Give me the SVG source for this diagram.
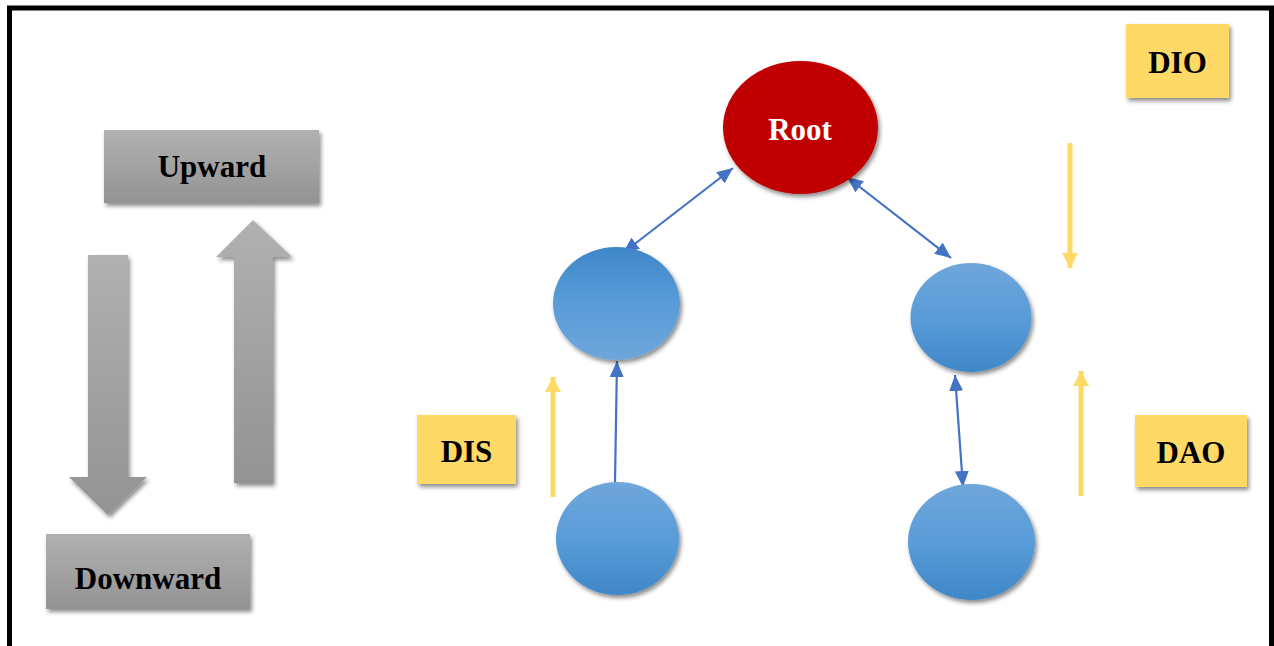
<svg xmlns="http://www.w3.org/2000/svg" width="1274" height="646" viewBox="0 0 1274 646">
<defs>
<style>
.lbl{font-family:"Liberation Serif","Times New Roman",serif;font-weight:bold;font-size:31px;text-anchor:middle;fill:#000}
.conn{stroke:#4472c4;stroke-width:2.2;fill:none}
.yel{stroke:#ffd966;stroke-width:5;fill:none}
</style>
<linearGradient id="gray" x1="0" y1="0" x2="0" y2="1"><stop offset="0" stop-color="#b1b1b1"/><stop offset="1" stop-color="#939393"/></linearGradient>
<linearGradient id="blueDown" x1="0" y1="0" x2="0" y2="1"><stop offset="0" stop-color="#6fa6da"/><stop offset="0.5" stop-color="#599cd9"/><stop offset="1" stop-color="#3f87c8"/></linearGradient>
<linearGradient id="blueUp" x1="0" y1="1" x2="0" y2="0"><stop offset="0" stop-color="#6fa6da"/><stop offset="0.5" stop-color="#599cd9"/><stop offset="1" stop-color="#3f87c8"/></linearGradient>
<filter id="sh" x="-20%" y="-20%" width="150%" height="150%"><feDropShadow dx="2" dy="3" stdDeviation="2" flood-color="#000" flood-opacity="0.45"/></filter>
<marker id="bhb" viewBox="0 0 16 14" refX="16" refY="7" markerWidth="16" markerHeight="14" orient="auto-start-reverse" markerUnits="userSpaceOnUse"><path d="M0,0 L16,7 L0,14 z" fill="#4472c4"/></marker>
<marker id="yh" viewBox="0 0 15 16" refX="15" refY="8" markerWidth="15" markerHeight="16" orient="auto" markerUnits="userSpaceOnUse"><path d="M0,0 L15,8 L0,16 z" fill="#ffd966"/></marker>
</defs>
<rect x="0" y="0" width="1274" height="646" fill="#fff"/>
<rect x="9.5" y="8" width="1262" height="660" fill="none" stroke="#000" stroke-width="5"/>

<g id="connectors">
<line class="conn" x1="623" y1="253" x2="733" y2="168" marker-start="url(#bhb)" marker-end="url(#bhb)"/>
<line class="conn" x1="847" y1="177" x2="951" y2="258" marker-start="url(#bhb)" marker-end="url(#bhb)"/>
<line class="conn" x1="615" y1="482" x2="617" y2="361" marker-end="url(#bhb)"/>
<line class="conn" x1="955" y1="375" x2="963" y2="487" marker-start="url(#bhb)" marker-end="url(#bhb)"/>
</g>

<g id="yellow-arrows">
<line class="yel" x1="553" y1="497" x2="553" y2="377" marker-end="url(#yh)"/>
<line class="yel" x1="1081" y1="496" x2="1081" y2="371" marker-end="url(#yh)"/>
<line class="yel" x1="1070" y1="143" x2="1070" y2="268" marker-end="url(#yh)"/>
</g>

<g id="gray-arrows" filter="url(#sh)">
<path d="M88,255 H128 V477 H147 L108,515 L69,477 H88 Z" fill="url(#gray)"/>
<path d="M234,483 V257 H216 L253,220 L292,257 H273 V483 Z" fill="url(#gray)"/>
</g>

<g id="upward">
<rect x="104" y="130" width="215" height="73" fill="url(#gray)" filter="url(#sh)"/>
<text class="lbl" x="212" y="177">Upward</text>
</g>
<g id="downward">
<rect x="46" y="534" width="204" height="75" fill="url(#gray)" filter="url(#sh)"/>
<text class="lbl" x="148" y="589">Downward</text>
</g>

<g id="root">
<ellipse cx="800.5" cy="127.5" rx="77.5" ry="66.5" fill="#c00000" filter="url(#sh)"/>
<text class="lbl" x="800" y="140" style="fill:#fff">Root</text>
</g>
<g id="node-left">
<ellipse cx="616.5" cy="303.5" rx="63.5" ry="56.5" fill="url(#blueUp)" filter="url(#sh)"/>
</g>
<g id="node-right">
<ellipse cx="971" cy="317.5" rx="60.5" ry="54.5" fill="url(#blueDown)" filter="url(#sh)"/>
</g>
<g id="node-bottom-left">
<ellipse cx="617.5" cy="538.5" rx="61.5" ry="56.5" fill="url(#blueDown)" filter="url(#sh)"/>
</g>
<g id="node-bottom-right">
<ellipse cx="971.5" cy="542" rx="63.5" ry="58" fill="url(#blueDown)" filter="url(#sh)"/>
</g>

<g id="dis">
<rect x="417" y="415" width="99" height="69" fill="#ffd966" filter="url(#sh)"/>
<text class="lbl" x="466.5" y="462">DIS</text>
</g>
<g id="dao">
<rect x="1135" y="415" width="112" height="72" fill="#ffd966" filter="url(#sh)"/>
<text class="lbl" x="1191" y="463">DAO</text>
</g>
<g id="dio">
<rect x="1126" y="24" width="103" height="74" fill="#ffd966" filter="url(#sh)"/>
<text class="lbl" x="1177.5" y="73">DIO</text>
</g>
</svg>
